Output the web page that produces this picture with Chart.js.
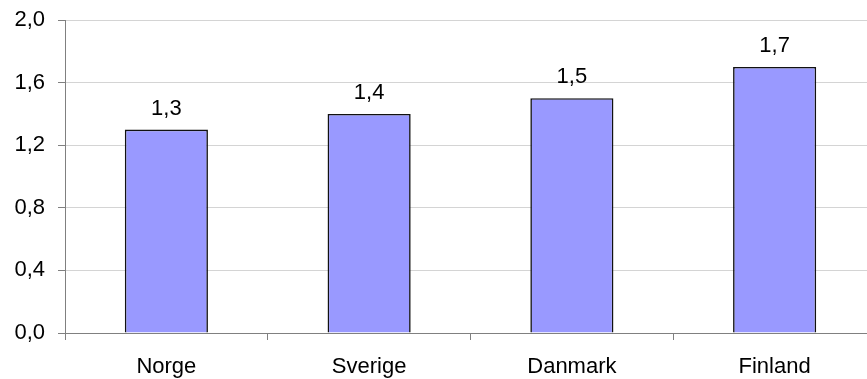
<!DOCTYPE html>
<html>
<head>
<meta charset="utf-8">
<script src="https://cdn.jsdelivr.net/npm/chart.js@4/dist/chart.umd.min.js"></script>
<style>
  html, body { margin: 0; padding: 0; background: #fff; overflow: hidden; }
  #wrap { width: 876px; height: 379px; }
</style>
</head>
<body>
<div id="wrap"><canvas id="c" width="876" height="379"></canvas></div>
<script>
// Categories and values
const countries = ['Norge', 'Sverige', 'Danmark', 'Finland'];
const values = [1.3, 1.4, 1.5, 1.7];
const yTicks = [0, 0.4, 0.8, 1.2, 1.6, 2.0];

const fmt = v => v.toFixed(1).replace('.', ',');
const FONT = { family: '"Liberation Sans", Arial, sans-serif', size: 22 };

// Value labels above each bar
const valueLabels = {
  id: 'valueLabels',
  afterDatasetsDraw(chart) {
    const ctx = chart.ctx;
    const meta = chart.getDatasetMeta(0);
    ctx.save();
    ctx.font = `${FONT.size}px ${FONT.family}`;
    ctx.fillStyle = '#000';
    ctx.textAlign = 'center';
    ctx.textBaseline = 'alphabetic';
    meta.data.forEach((bar, i) => {
      ctx.fillText(fmt(values[i]), bar.x, bar.y - 15);
    });
    ctx.restore();
  }
};

new Chart(document.getElementById('c'), {
  type: 'bar',
  data: {
    labels: countries,
    datasets: [{
      data: values,
      backgroundColor: '#9999ff',
      borderColor: '#111',
      borderWidth: 1.6,
      barPercentage: 0.41,
      categoryPercentage: 1.0
    }]
  },
  options: {
    responsive: false,
    animation: false,
    devicePixelRatio: 1,
    layout: { padding: { top: 20, right: 0, left: 0, bottom: 0 } },
    plugins: { legend: { display: false }, tooltip: { enabled: false } },
    scales: {
      x: {
        afterFit(s) { s.height = 46; s.paddingLeft = 0; s.paddingRight = 0; },
        grid: {
          offset: true,
          drawOnChartArea: false,
          drawTicks: true,
          tickLength: 7,
          color: '#808080'
        },
        border: { color: '#808080', width: 1 },
        ticks: { color: '#000', font: FONT, padding: 14 }
      },
      y: {
        min: 0,
        max: 2.0,
        afterFit(s) { s.width = 65; s.paddingTop = 0; s.paddingBottom = 0; },
        afterBuildTicks(s) { s.ticks = yTicks.map(v => ({ value: v })); },
        grid: {
          color: '#d4d4d4',
          tickColor: '#808080',
          tickLength: 7,
          lineWidth: 1
        },
        border: { color: '#808080', width: 1 },
        ticks: {
          color: '#000',
          font: FONT,
          padding: 13,
          callback: v => fmt(v)
        }
      }
    }
  },
  plugins: [valueLabels]
});
</script>
</body>
</html>
